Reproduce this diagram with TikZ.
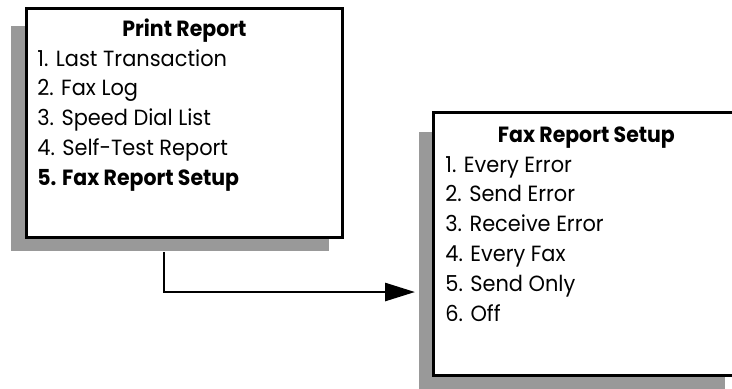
\documentclass[tikz,border=0pt]{standalone}
\usepackage{fontspec}
\setmainfont{Poppins}[UprightFeatures={FakeStretch=0.95},
                      BoldFeatures={FakeStretch=0.93}]
\usetikzlibrary{arrows.meta, positioning}
\definecolor{shadegray}{gray}{0.6}

\begin{document}
\begin{tikzpicture}[x=0.5pt, y=-0.5pt, >={Triangle[length=15pt, width=9pt]}]
  \tikzset{
    panel/.style={draw, line width=1.4pt, fill=white, anchor=north west,
                  inner sep=0pt},
    drop/.style={fill=shadegray, anchor=north west, inner sep=0pt},
    item/.style={font=\fontsize{11}{12}\selectfont, inner sep=0pt,
                 text height=9.5pt, text depth=5pt},
    head/.style={item, font=\fontsize{11}{12}\selectfont\bfseries}
  }
  \useasboundingbox (0,0) rectangle (732,388);
  \clip (0,0) rectangle (732,388);

  % shadows first
  \node[drop, minimum width=159pt, minimum height=112.5pt] (prs) at (11,26) {};
  \node[drop, minimum width=153pt, minimum height=129pt] (fxs) at (419,132) {};

  \node[panel, minimum width=158pt, minimum height=114.5pt] (pr) at (25,7) {};
  \node[panel, minimum width=153pt, minimum height=131.5pt] (fx) at (432,111) {};

  % Print Report menu
  \node[head, anchor=base] (prh) at ([yshift=-14.5pt]pr.north) {Print Report};
  \node[item, anchor=base west] (p1) at ([xshift=6pt, yshift=-29.5pt]pr.north west)
    {1. Last Transaction};
  \node[item, below=0pt of p1.south west, anchor=north west] (p2) {2. Fax Log};
  \node[item, below=0pt of p2.south west, anchor=north west] (p3) {3. Speed Dial List};
  \node[item, below=0pt of p3.south west, anchor=north west] (p4) {4. Self-Test Report};
  \node[head, below=0pt of p4.south west, anchor=north west] (p5) {5. Fax Report Setup};

  % Fax Report Setup menu
  \node[head, anchor=base] (fxh) at ([yshift=-15.5pt]fx.north) {Fax Report Setup};
  \node[item, anchor=base west] (f1) at ([xshift=6.5pt, yshift=-30.5pt]fx.north west)
    {1. Every Error};
  \node[item, below=0pt of f1.south west, anchor=north west] (f2) {2. Send Error};
  \node[item, below=0pt of f2.south west, anchor=north west] (f3) {3. Receive Error};
  \node[item, below=0pt of f3.south west, anchor=north west] (f4) {4. Every Fax};
  \node[item, below=0pt of f4.south west, anchor=north west] (f5) {5. Send Only};
  \node[item, below=0pt of f5.south west, anchor=north west] (f6) {6. Off};

  \draw[->, line width=1.4pt] ([xshift=76.5pt]prs.south west)
    |- ([xshift=-2pt, yshift=-80pt]fxs.north west);
\end{tikzpicture}
\end{document}
